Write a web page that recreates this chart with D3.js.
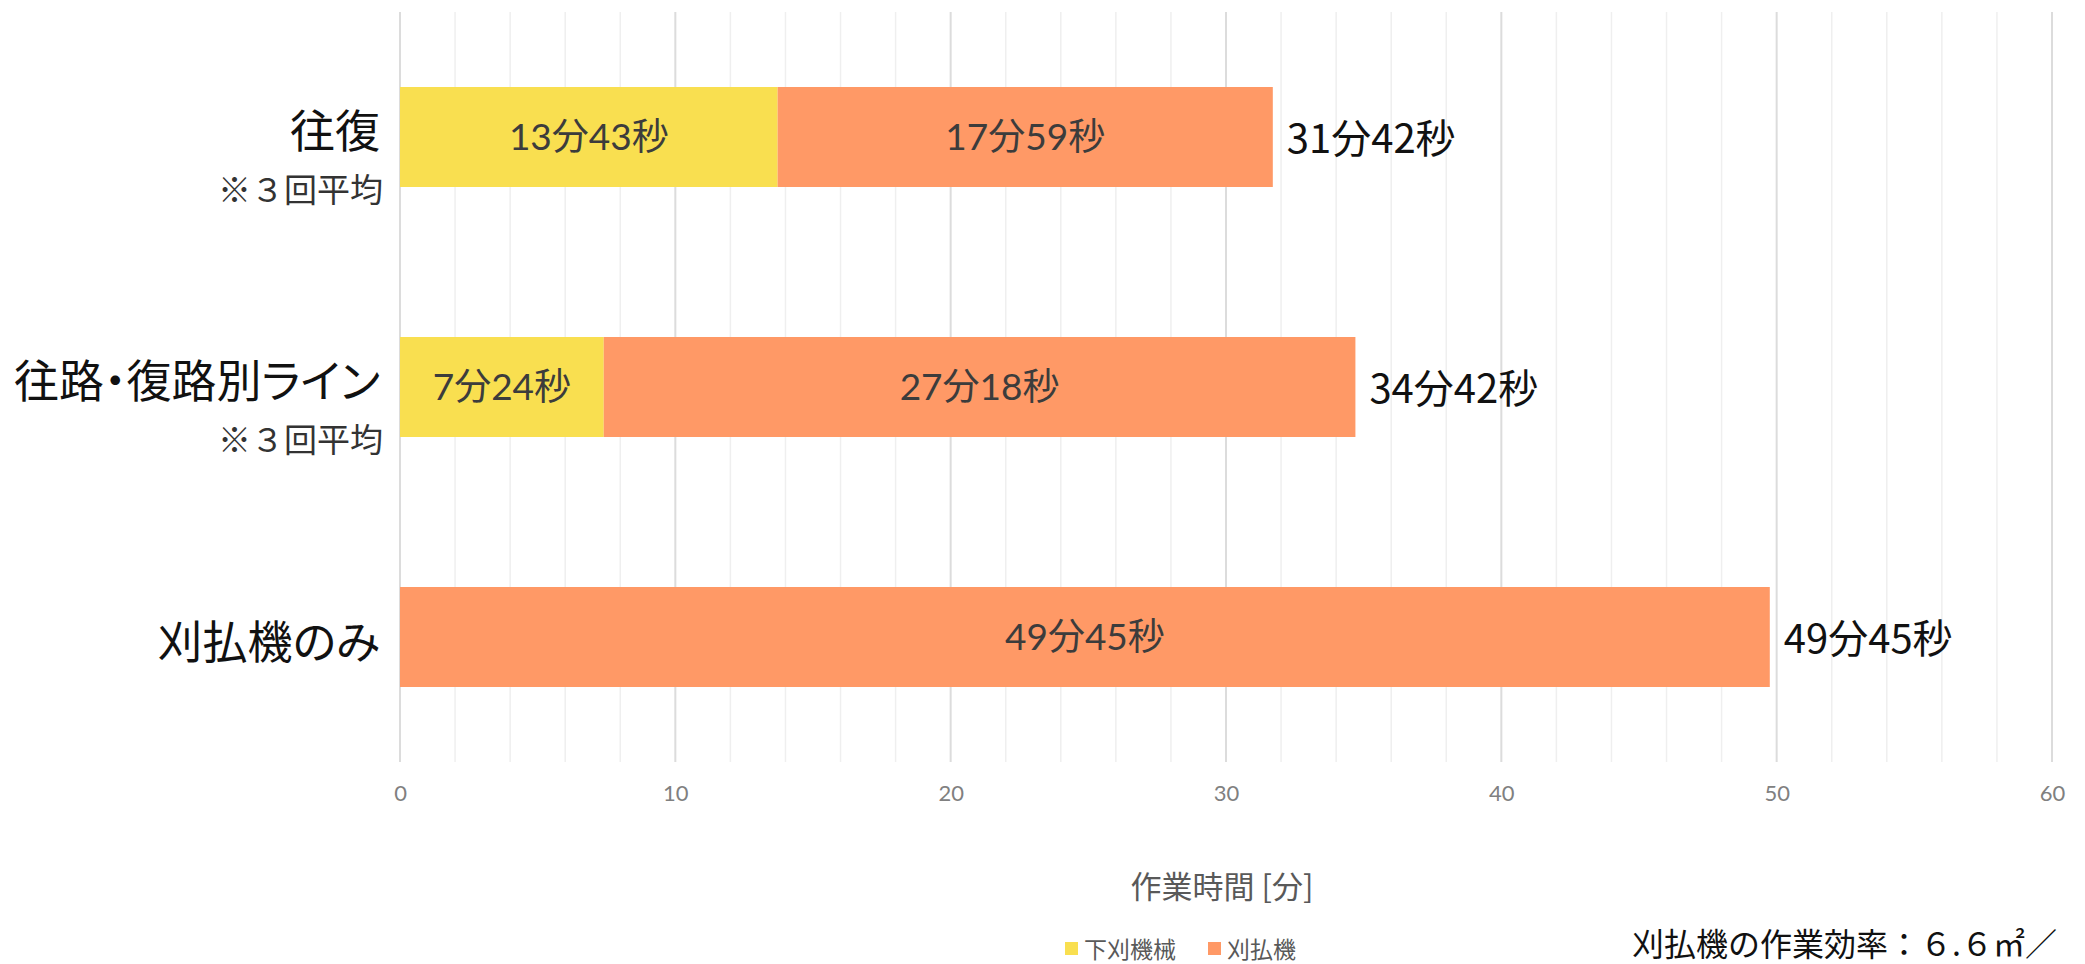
<!DOCTYPE html>
<html lang="ja">
<head>
<meta charset="utf-8">
<script src="https://cdn.jsdelivr.net/npm/d3@7"></script>
<style>
  html, body { margin: 0; padding: 0; background: #fff; }
  svg { display: block; }
  .cat { font-feature-settings: "palt"; }
</style>
</head>
<body>
<svg id="chart" width="2085" height="964"></svg>
<script>
// Work time per method, in seconds
const categories = ["往復", "往路・復路別ライン", "刈払機のみ"];
const subNotes = ["※３回平均", "※３回平均", ""];
const underbrushSec = [13 * 60 + 43, 7 * 60 + 24, 0];       // 下刈機械
const brushcutterSec = [17 * 60 + 59, 27 * 60 + 18, 49 * 60 + 45]; // 刈払機
const seriesNames = ["下刈機械", "刈払機"];
const seriesColors = ["#F9DF50", "#FF9966"];
const xTicks = [0, 10, 20, 30, 40, 50, 60];
const xTitle = "作業時間 [分]";
const footnote = "刈払機の作業効率：６.６㎡／";

const fmt = s => `${Math.floor(s / 60)}分${s % 60}秒`;

const rows = categories.map((c, i) => ({
  cat: c,
  note: subNotes[i],
  parts: [underbrushSec[i], brushcutterSec[i]],
  total: underbrushSec[i] + brushcutterSec[i]
}));

const svg = d3.select("#chart");
const x = d3.scaleLinear().domain([0, 60]).range([400, 2052]);
const y = d3.scaleBand().domain(categories).range([12, 762])
  .paddingInner(0.6).paddingOuter(0.3);

const latin = "Lato, 'Noto Sans CJK JP', sans-serif";
const cjk = "'Noto Sans CJK JP', 'Noto Sans', sans-serif";

// gridlines: minor every 2 min, major every 10 min
const minor = d3.range(0, 61, 2).filter(v => v % 10 !== 0);
svg.append("g").selectAll("line").data(minor).join("line")
  .attr("x1", d => x(d)).attr("x2", d => x(d))
  .attr("y1", 12).attr("y2", 762)
  .attr("stroke", "#efefef").attr("stroke-width", 1.5);
svg.append("g").selectAll("line").data(xTicks).join("line")
  .attr("x1", d => x(d)).attr("x2", d => x(d))
  .attr("y1", 12).attr("y2", 762)
  .attr("stroke", "#dcdcdc").attr("stroke-width", 2);

// x axis tick labels
const xAxis = d3.axisBottom(x).tickValues(xTicks).tickSize(0).tickPadding(0);
const gx = svg.append("g").attr("transform", "translate(0,785)").call(xAxis);
gx.select(".domain").remove();
gx.selectAll("text")
  .attr("font-family", latin).attr("font-size", 22).attr("fill", "#808080")
  .attr("dy", "0.71em");

// stacked bars
const bars = svg.append("g");
rows.forEach(r => {
  let acc = 0;
  r.parts.forEach((v, k) => {
    const x0 = x(acc / 60), x1 = x((acc + v) / 60);
    acc += v;
    if (v <= 0) return;
    bars.append("rect")
      .attr("x", x0).attr("y", y(r.cat))
      .attr("width", x1 - x0).attr("height", y.bandwidth())
      .attr("fill", seriesColors[k]);
    bars.append("text")
      .attr("x", (x0 + x1) / 2).attr("y", y(r.cat) + y.bandwidth() / 2 - 2)
      .attr("text-anchor", "middle").attr("dominant-baseline", "central")
      .attr("font-family", latin).attr("font-size", 37).attr("fill", "#3c3c3c")
      .text(fmt(v));
  });
  // total to the right of the bar
  bars.append("text")
    .attr("x", x(r.total / 60) + 14).attr("y", y(r.cat) + y.bandwidth() / 2 - 1)
    .attr("dominant-baseline", "central")
    .attr("font-family", cjk).attr("font-size", 40).attr("fill", "#111")
    .text(fmt(r.total));
});

// category labels
const labels = svg.append("g");
rows.forEach(r => {
  const cy = y(r.cat) + y.bandwidth() / 2;
  labels.append("text").attr("class", "cat")
    .attr("x", 380).attr("y", r.note ? cy - 9 : cy + 2)
    .attr("text-anchor", "end").attr("dominant-baseline", "central")
    .attr("font-family", cjk).attr("font-size", 45).attr("fill", "#111")
    .text(r.cat);
  if (r.note) {
    labels.append("text")
      .attr("x", 383).attr("y", cy + 51)
      .attr("text-anchor", "end").attr("dominant-baseline", "central")
      .attr("font-family", cjk).attr("font-size", 33).attr("fill", "#333")
      .text(r.note);
  }
});

// axis title
svg.append("text")
  .attr("x", x(30) - 4).attr("y", 884)
  .attr("text-anchor", "middle").attr("dominant-baseline", "central")
  .attr("font-family", cjk).attr("font-size", 31).attr("fill", "#595959")
  .text(xTitle);

// legend
const lg = svg.append("g");
const legendX = [1065, 1208];
seriesNames.forEach((n, k) => {
  lg.append("rect").attr("x", legendX[k]).attr("y", 942)
    .attr("width", 13).attr("height", 13).attr("fill", seriesColors[k]);
  lg.append("text").attr("x", legendX[k] + 19).attr("y", 948)
    .attr("dominant-baseline", "central")
    .attr("font-family", cjk).attr("font-size", 23).attr("fill", "#595959")
    .text(n);
});

// efficiency note
svg.append("text")
  .attr("x", 1632).attr("y", 942)
  .attr("dominant-baseline", "central")
  .attr("font-family", cjk).attr("font-size", 32).attr("fill", "#111")
  .text(footnote);
</script>
</body>
</html>
